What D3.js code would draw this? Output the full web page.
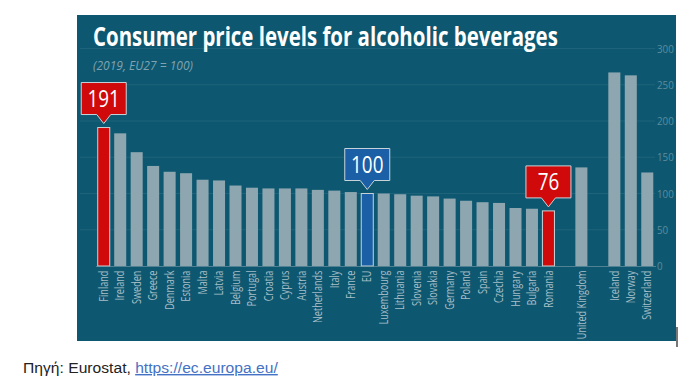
<!DOCTYPE html>
<html>
<head>
<meta charset="utf-8">
<script src="https://cdn.jsdelivr.net/npm/d3@7"></script>
<style>
  body { margin: 0; background: #fff; }
  svg { display: block; }
</style>
</head>
<body>
<svg id="chart" width="700" height="386"></svg>
<script>
// Price level indices for alcoholic beverages, 2019 (EU27 = 100)
const euCountries = ["Finland", "Ireland", "Sweden", "Greece", "Denmark", "Estonia", "Malta", "Latvia",
  "Belgium", "Portugal", "Croatia", "Cyprus", "Austria", "Netherlands", "Italy", "France", "EU",
  "Luxembourg", "Lithuania", "Slovenia", "Slovakia", "Germany", "Poland", "Spain", "Czechia",
  "Hungary", "Bulgaria", "Romania"];
const euValues = [191, 183, 157, 138, 130, 128, 119, 118, 111, 108, 107, 107, 107, 105, 104, 102, 100,
  100, 99, 97, 96, 93, 90, 88, 87, 80, 79, 76];
const ukCountries = ["United Kingdom"];
const ukValues = [136];
const eftaCountries = ["Iceland", "Norway", "Switzerland"];
const eftaValues = [267, 263, 129];
const highlighted = ["Finland", "EU", "Romania"];
const yTicks = [0, 50, 100, 150, 200, 250, 300];

const BG = "#0d5870";
const BAR = "#8da6b0";
const RED = "#d00a0a";
const BLUE = "#1b5fa6";
const EDGE = "#c6d4da";
const FONT = "'Open Sans', 'Liberation Sans', sans-serif";

let rows = [];
euCountries.forEach((c, i) => rows.push({ name: c, value: euValues[i] }));
ukCountries.forEach((c, i) => rows.push({ name: c, value: ukValues[i] }));
eftaCountries.forEach((c, i) => rows.push({ name: c, value: eftaValues[i] }));

// slots on the x axis, with an empty slot between each group
const slots = [...euCountries, "_gap1", ...ukCountries, "_gap2", ...eftaCountries];

const svg = d3.select("#chart");

// squeeze a text horizontally so it fits a given width (no condensed font available)
function fitWidth(sel, x0, y0, width) {
  let w = sel.node().getComputedTextLength();
  sel.attr("x", 0).attr("y", 0)
    .attr("transform", `translate(${x0},${y0}) scale(${width / w},1)`);
}

// background panel
svg.append("rect")
  .attr("x", 77).attr("y", 15)
  .attr("width", 599).attr("height", 326)
  .attr("fill", BG);

// little grey mark at the right edge of the panel
svg.append("rect")
  .attr("x", 676).attr("y", 327)
  .attr("width", 2).attr("height", 20)
  .attr("fill", "#777");

const x = d3.scaleBand()
  .domain(slots)
  .range([95.5, 655.5])
  .paddingInner(0.27)
  .paddingOuter(0.135);

const y = d3.scaleLinear()
  .domain([0, 300])
  .range([266, 48.5]);

// grid lines
svg.append("g")
  .selectAll("line")
  .data(yTicks.filter(d => d > 0))
  .join("line")
  .attr("x1", 80).attr("x2", 655)
  .attr("y1", d => y(d)).attr("y2", d => y(d))
  .attr("stroke", "#ffffff")
  .attr("stroke-opacity", 0.07)
  .attr("stroke-width", 1);

// y axis on the right
const yAxis = svg.append("g")
  .attr("transform", "translate(655,0)")
  .call(d3.axisRight(y).tickValues(yTicks).tickSize(0).tickPadding(2));
yAxis.select(".domain").remove();
yAxis.selectAll("text")
  .attr("fill", "#5a8c9f")
  .attr("transform", "scale(0.85,1)")
  .attr("x", 2 / 0.85)
  .style("font-family", FONT)
  .style("font-size", "11.5px");

// bars
svg.append("g")
  .selectAll("rect")
  .data(rows)
  .join("rect")
  .attr("x", d => x(d.name))
  .attr("y", d => y(d.value))
  .attr("width", x.bandwidth())
  .attr("height", d => y(0) - y(d.value))
  .attr("fill", d => d.name === "EU" ? BLUE : (highlighted.includes(d.name) ? RED : BAR))
  .attr("stroke", d => highlighted.includes(d.name) ? EDGE : "none")
  .attr("stroke-width", 1);

// x axis with rotated labels
const xAxis = svg.append("g")
  .attr("transform", `translate(0,${y(0)})`)
  .call(d3.axisBottom(x).tickSize(0).tickFormat(d => d.startsWith("_") ? "" : d));
xAxis.select(".domain")
  .attr("stroke", "#7f9fab")
  .attr("stroke-opacity", 0.6);
xAxis.selectAll("text")
  .attr("transform", "rotate(-90) scale(0.76,1)")
  .attr("x", -6)
  .attr("y", 0)
  .attr("dy", "0.35em")
  .attr("text-anchor", "end")
  .attr("fill", "#a7bec8")
  .style("font-family", FONT)
  .style("font-size", "12px");

// callouts above the highlighted bars
const BOX_W = 45, BOX_H = 32, TIP = 9, GAP = 4;
const callouts = rows.filter(d => highlighted.includes(d.name));
const cg = svg.append("g")
  .selectAll("g")
  .data(callouts)
  .join("g")
  .attr("transform", d => `translate(${x(d.name) + x.bandwidth() / 2},${y(d.value) - GAP})`);

cg.append("path")
  .attr("d", `M0,0 L${-7},${-TIP} L${-BOX_W / 2},${-TIP} L${-BOX_W / 2},${-TIP - BOX_H}
              L${BOX_W / 2},${-TIP - BOX_H} L${BOX_W / 2},${-TIP} L7,${-TIP} Z`)
  .attr("fill", d => d.name === "EU" ? BLUE : RED)
  .attr("stroke", EDGE)
  .attr("stroke-width", 1);

cg.append("text")
  .attr("transform", `translate(0,${-TIP - BOX_H / 2}) scale(0.82,1)`)
  .attr("dy", "0.36em")
  .attr("text-anchor", "middle")
  .attr("fill", "#ffffff")
  .style("font-family", FONT)
  .style("font-size", "23px")
  .text(d => d.value);

// title and subtitle
const title = svg.append("text")
  .attr("fill", "#ffffff")
  .style("font-family", FONT)
  .style("font-weight", "bold")
  .style("font-size", "27px")
  .text("Consumer price levels for alcoholic beverages");
fitWidth(title, 93, 46, 465);

const sub = svg.append("text")
  .attr("fill", "#7fa3b2")
  .style("font-family", FONT)
  .style("font-style", "italic")
  .style("font-size", "12px")
  .text("(2019, EU27 = 100)");
fitWidth(sub, 93, 70, 100);

// source line under the panel
const src = svg.append("text")
  .style("font-family", "'Liberation Sans', 'Open Sans', sans-serif")
  .style("font-size", "14.5px");
src.append("tspan")
  .attr("fill", "#222")
  .text("Πηγή: Eurostat, ");
src.append("tspan")
  .attr("fill", "#4472c4")
  .style("text-decoration", "underline")
  .text("https://ec.europa.eu/");
fitWidth(src, 23, 373, 255);
</script>
</body>
</html>
